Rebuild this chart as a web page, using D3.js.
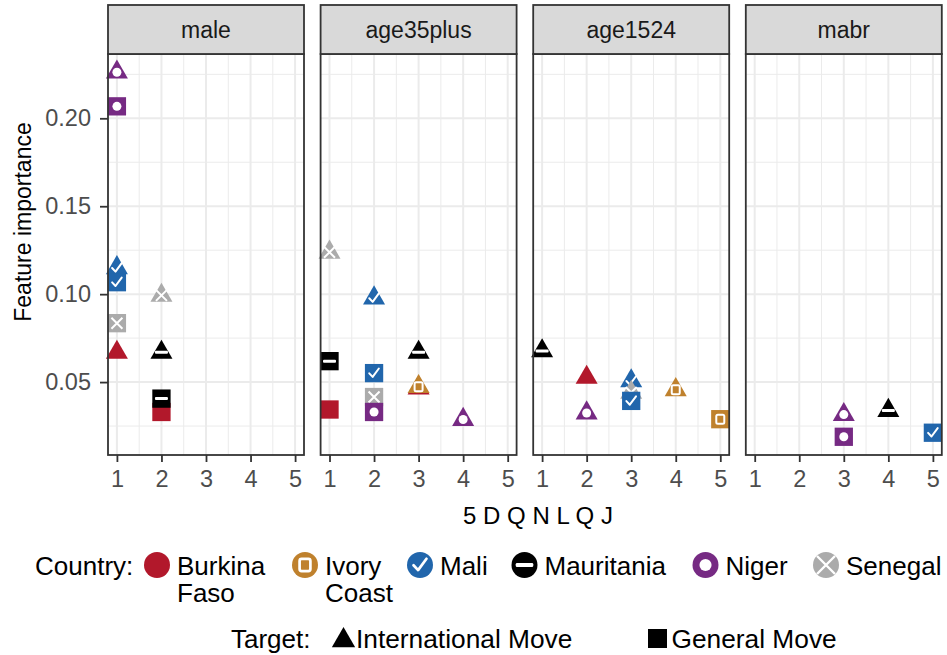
<!DOCTYPE html>
<html>
<head>
<meta charset="utf-8">
<script src="https://cdn.jsdelivr.net/npm/d3@7"></script>
<style>
  body { margin: 0; background: #fff; }
  text { font-family: "Liberation Sans", Arial, sans-serif; }
</style>
</head>
<body>
<svg width="947" height="655"></svg>
<script>
// facet panels, in display order
const features = ["male", "age35plus", "age1524", "mabr"];

const countries = ["Burkina Faso", "Ivory Coast", "Mali", "Mauritania", "Niger", "Senegal"];
const countryLabels = [["Burkina", "Faso"], ["Ivory", "Coast"], ["Mali"], ["Mauritania"], ["Niger"], ["Senegal"]];
const countryColours = ["#B2182B", "#BF812D", "#2166AC", "#000000", "#762A83", "#ABABAB"];

const targets = ["International Move", "General Move"];

const xTicks = [1, 2, 3, 4, 5];
const yTicks = [0.05, 0.10, 0.15, 0.20];

// [feature, rank, country, importance]  -- triangles
const internationalMove = [
    ["male", 1, "Burkina Faso", 0.0669],
    ["male", 1, "Mali", 0.1150],
    ["male", 2, "Mauritania", 0.0669],
    ["male", 1, "Niger", 0.2262],
    ["male", 2, "Senegal", 0.0993],
    ["age35plus", 3, "Burkina Faso", 0.0466],
    ["age35plus", 3, "Ivory Coast", 0.0474],
    ["age35plus", 2, "Mali", 0.0978],
    ["age35plus", 3, "Mauritania", 0.0669],
    ["age35plus", 4, "Niger", 0.0287],
    ["age35plus", 1, "Senegal", 0.1238],
    ["age1524", 2, "Burkina Faso", 0.0526],
    ["age1524", 4, "Ivory Coast", 0.0456],
    ["age1524", 3, "Mali", 0.0507],
    ["age1524", 1, "Mauritania", 0.0677],
    ["age1524", 2, "Niger", 0.0324],
    ["age1524", 3, "Senegal", 0.0441],
    ["mabr", 4, "Mauritania", 0.0338],
    ["mabr", 3, "Niger", 0.0315],
];

// [feature, rank, country, importance]  -- squares
const generalMove = [
    ["male", 2, "Burkina Faso", 0.0330],
    ["male", 1, "Mali", 0.1068],
    ["male", 2, "Mauritania", 0.0406],
    ["male", 1, "Senegal", 0.0835],
    ["male", 1, "Niger", 0.2068],
    ["age35plus", 1, "Burkina Faso", 0.0344],
    ["age35plus", 2, "Mali", 0.0551],
    ["age35plus", 1, "Mauritania", 0.0619],
    ["age35plus", 2, "Senegal", 0.0415],
    ["age35plus", 2, "Niger", 0.0330],
    ["age1524", 5, "Ivory Coast", 0.0289],
    ["age1524", 3, "Mali", 0.0393],
    ["mabr", 5, "Mali", 0.0212],
    ["mabr", 3, "Niger", 0.0189],
];

const panel = {left: 108, top: 54, bottom: 455, width: 196, gap: 16.6, stripTop: 5};

const svg = d3.select("svg");

const allValues = internationalMove.concat(generalMove).map(d => d[3]);
const yMin = d3.min(allValues), yMax = d3.max(allValues);
const yPad = (yMax - yMin) * 0.05;
const y = d3.scaleLinear().domain([yMin - yPad, yMax + yPad]).range([panel.bottom, panel.top]);

const colour = d3.scaleOrdinal().domain(countries).range(countryColours);

// white overlay mark that identifies the country
function drawMark(g, country, k) {
    const i = countries.indexOf(country);
    if (i === 1) {
        g.append("rect").attr("x", -4 * k).attr("y", -4.5 * k).attr("width", 8 * k).attr("height", 9 * k)
            .attr("rx", 1.5 * k).attr("fill", "none").attr("stroke", "#fff").attr("stroke-width", 2 * k);
    } else if (i === 2) {
        g.append("path").attr("d", `M${-4.8 * k},${0.2 * k}L${-1.4 * k},${3.8 * k}L${4.8 * k},${-4.6 * k}`)
            .attr("fill", "none").attr("stroke", "#fff").attr("stroke-width", 2 * k)
            .attr("stroke-linecap", "round").attr("stroke-linejoin", "round");
    } else if (i === 3) {
        g.append("rect").attr("x", -6.5 * k).attr("y", -1.5 * k).attr("width", 13 * k).attr("height", 3 * k)
            .attr("rx", 1 * k).attr("fill", "#fff");
    } else if (i === 4) {
        g.append("circle").attr("r", 4.5 * k).attr("fill", "#fff");
    } else if (i === 5) {
        const a = k > 1 ? 9 : 5.5;
        g.append("path").attr("d", `M${-a},${-a}L${a},${a}M${-a},${a}L${a},${-a}`)
            .attr("stroke", "#fff").attr("stroke-width", 2 * Math.min(k, 1.2));
    }
}

const triangle = d3.symbol().type(d3.symbolTriangle).size(210);
const square = d3.symbol().type(d3.symbolSquare).size(335);

features.forEach(function (feature, p) {
    const left = panel.left + p * (panel.width + panel.gap);
    const x = d3.scaleLinear().domain([0.8, 5.2]).range([left, left + panel.width]);

    // panel background + grid
    svg.append("rect").attr("x", left).attr("y", panel.top).attr("width", panel.width)
        .attr("height", panel.bottom - panel.top).attr("fill", "#fff");

    const yMinor = d3.range(0.025, 0.25, 0.05).filter(v => v > y.domain()[0] && v < y.domain()[1]);
    const xMinor = [1.5, 2.5, 3.5, 4.5];

    svg.append("g").selectAll("line").data(yMinor).join("line")
        .attr("x1", left).attr("x2", left + panel.width)
        .attr("y1", d => y(d)).attr("y2", d => y(d))
        .attr("stroke", "#EBEBEB").attr("stroke-width", 1);
    svg.append("g").selectAll("line").data(xMinor).join("line")
        .attr("x1", d => x(d)).attr("x2", d => x(d))
        .attr("y1", panel.top).attr("y2", panel.bottom)
        .attr("stroke", "#EBEBEB").attr("stroke-width", 1);
    svg.append("g").selectAll("line").data(yTicks).join("line")
        .attr("x1", left).attr("x2", left + panel.width)
        .attr("y1", d => y(d)).attr("y2", d => y(d))
        .attr("stroke", "#EBEBEB").attr("stroke-width", 2);
    svg.append("g").selectAll("line").data(xTicks).join("line")
        .attr("x1", d => x(d)).attr("x2", d => x(d))
        .attr("y1", panel.top).attr("y2", panel.bottom)
        .attr("stroke", "#EBEBEB").attr("stroke-width", 2);

    // points: triangles first, then squares
    const pts = svg.append("g");
    internationalMove.filter(d => d[0] === feature).forEach(function (d) {
        const g = pts.append("g").attr("transform", `translate(${x(d[1])},${y(d[3])})`);
        g.append("path").attr("d", triangle).attr("fill", colour(d[2]));
        drawMark(g, d[2], 1);
    });
    generalMove.filter(d => d[0] === feature).forEach(function (d) {
        const g = pts.append("g").attr("transform", `translate(${x(d[1])},${y(d[3])})`);
        g.append("path").attr("d", square).attr("fill", colour(d[2]));
        drawMark(g, d[2], 1);
    });

    // panel border
    svg.append("rect").attr("x", left).attr("y", panel.top).attr("width", panel.width)
        .attr("height", panel.bottom - panel.top).attr("fill", "none")
        .attr("stroke", "#333333").attr("stroke-width", 1.8);

    // strip
    svg.append("rect").attr("x", left).attr("y", panel.stripTop).attr("width", panel.width)
        .attr("height", panel.top - panel.stripTop).attr("fill", "#D9D9D9")
        .attr("stroke", "#333333").attr("stroke-width", 1.8);
    svg.append("text").attr("x", left + panel.width / 2).attr("y", 38)
        .attr("text-anchor", "middle").attr("font-size", 23).attr("fill", "#1A1A1A").text(feature);

    // x axis
    const xAxis = svg.append("g").attr("transform", `translate(0,${panel.bottom})`)
        .call(d3.axisBottom(x).tickValues(xTicks).tickFormat(d3.format("d")).tickSize(7).tickPadding(8));
    xAxis.select(".domain").remove();
    xAxis.selectAll("line").attr("stroke", "#333333").attr("stroke-width", 1.8);
    xAxis.selectAll("text").attr("font-size", 23.5).attr("fill", "#4D4D4D")
        .attr("font-family", "Liberation Sans, Arial, sans-serif");

    if (p === 0) {
        const yAxis = svg.append("g").attr("transform", `translate(${left},0)`)
            .call(d3.axisLeft(y).tickValues(yTicks).tickFormat(d3.format(".2f")).tickSize(8).tickPadding(9));
        yAxis.select(".domain").remove();
        yAxis.selectAll("line").attr("stroke", "#333333").attr("stroke-width", 1.8);
        yAxis.selectAll("text").attr("font-size", 23.5).attr("fill", "#4D4D4D")
            .attr("font-family", "Liberation Sans, Arial, sans-serif");
    }
});

// axis titles
svg.append("text").attr("x", 538).attr("y", 524).attr("text-anchor", "middle")
    .attr("font-size", 24).attr("fill", "#000").text("5 D Q N L Q J");
svg.append("text").attr("transform", "translate(31,222) rotate(-90)").attr("text-anchor", "middle")
    .attr("font-size", 23).attr("fill", "#000").text("Feature importance");

// legend: country
const legendCountryX = [157, 305, 420, 524.5, 705.5, 826];
const legend = svg.append("g");
legend.append("text").attr("x", 35).attr("y", 575).attr("font-size", 26).text("Country:");
countries.forEach(function (c, i) {
    const g = legend.append("g").attr("transform", `translate(${legendCountryX[i]},565)`);
    g.append("circle").attr("r", 13).attr("fill", colour(c));
    drawMark(g, c, 1.35);
    const t = legend.append("text").attr("x", legendCountryX[i] + 20).attr("y", 575).attr("font-size", 26);
    countryLabels[i].forEach(function (line, j) {
        t.append("tspan").attr("x", legendCountryX[i] + 20).attr("dy", j === 0 ? 0 : 26.5).text(line);
    });
});

// legend: target
const legendTargetX = [343.5, 657.5];
legend.append("text").attr("x", 231).attr("y", 648).attr("font-size", 26).text("Target:");
targets.forEach(function (t, i) {
    const g = legend.append("g").attr("transform", `translate(${legendTargetX[i]},${i === 0 ? 640.5 : 638.5})`);
    g.append("path").attr("d", i === 0 ? d3.symbol().type(d3.symbolTriangle).size(235)() : d3.symbol().type(d3.symbolSquare).size(361)())
        .attr("fill", "#000");
    legend.append("text").attr("x", legendTargetX[i] + (i === 0 ? 12.5 : 14)).attr("y", 648).attr("font-size", 26.3).text(t);
});
</script>
</body>
</html>
